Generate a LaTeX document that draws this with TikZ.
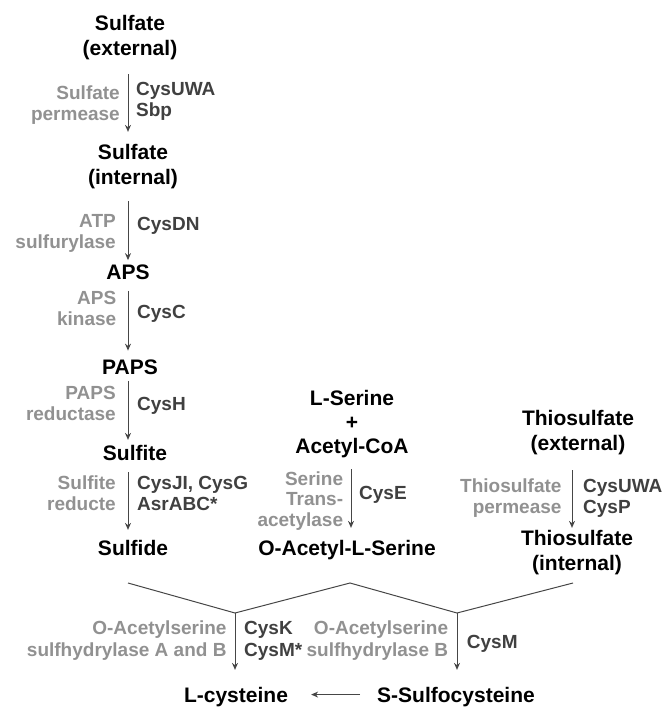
\documentclass[tikz,border=0pt]{standalone}
\usepackage{fontspec}
\setmainfont{Liberation Sans}
\usetikzlibrary{arrows.meta}
\definecolor{labgray}{RGB}{145,145,145}
\definecolor{enzgray}{RGB}{64,64,64}
\definecolor{linegray}{RGB}{70,70,70}
\begin{document}
\begin{tikzpicture}[x=1pt,y=-1pt,
  main/.style={font=\fontsize{21}{25}\selectfont\bfseries, text=black, align=center, inner sep=0pt, anchor=base},
  lab/.style={font=\fontsize{19}{21}\selectfont\bfseries, text=labgray, align=right, anchor=base east, inner sep=0pt},
  enz/.style={font=\fontsize{19}{21}\selectfont\bfseries, text=enzgray, align=left, anchor=base west, inner sep=0pt},
  arr/.style={draw=linegray, line width=1pt, -{Stealth[length=7pt,width=6pt]}},
  ln/.style={draw=linegray, line width=1pt}]
\useasboundingbox (0,0) rectangle (664,707);
\coordinate (colL) at (128,0);
\coordinate (colM) at (351,0);
\coordinate (colR) at (572,0);

% main column (multi-line nodes anchored at the baseline of their last line)
\node[main] (sext) at (130,55) {Sulfate\\(external)};
\node[main] (sint) at (133,184) {Sulfate\\(internal)};
\node[main] (aps) at (128,279) {APS};
\node[main] (paps) at (130,374) {PAPS};
\node[main] (sulfite) at (135,460.7) {Sulfite};
\node[main] (sulfide) at (133,555) {Sulfide};

\node[lab] (l1) at (120,120) {Sulfate\\permease};
\node[enz] (e1) at (136,116) {CysUWA\\Sbp};
\node[lab] (l2) at (116,248.5) {ATP\\sulfurylase};
\node[enz] (e2) at (137,230) {CysDN};
\node[lab] (l3) at (116.5,325) {APS\\kinase};
\node[enz] (e3) at (137,318.3) {CysC};
\node[lab] (l4) at (116,420) {PAPS\\reductase};
\node[enz] (e4) at (137,410) {CysH};
\node[lab] (l5) at (116,510) {Sulfite\\reducte};
\node[enz] (e5) at (137,510) {CysJI, CysG\\AsrABC*};

\draw[arr, shorten <=14.6pt, shorten >=11.7pt] (sext.south -| colL) -- (sint.north -| colL);
\draw[arr, shorten <=12.6pt, shorten >=4pt] (sint.south -| colL) -- (aps.north -| colL);
\draw[arr, shorten <=11.5pt, shorten >=8.5pt] (aps.south -| colL) -- (paps.north -| colL);
\draw[arr, shorten <=6.5pt, shorten >=5.4pt] (paps.south -| colL) -- (sulfite.north -| colL);
\draw[arr, shorten <=11.3pt, shorten >=9.7pt] (sulfite.south -| colL) -- (sulfide.north -| colL);

% middle column
\node[main, font=\fontsize{21}{24}\selectfont\bfseries] (ser) at (352,453) {L-Serine\\+\\Acetyl-CoA};
\node[main] (oas) at (347,555) {O-Acetyl-L-Serine};
\node[lab, font=\fontsize{19}{20.8}\selectfont\bfseries] (lE) at (343.3,526.7) {Serine\\Trans-\\acetylase};
\node[enz] (eE) at (359,499.3) {CysE};
\draw[arr, shorten <=11.6pt, shorten >=11.7pt] (ser.south -| colM) -- (oas.north -| colM);

% right column
\node[main] (text) at (578,450) {Thiosulfate\\(external)};
\node[main] (tint) at (577,570) {Thiosulfate\\(internal)};
\node[lab] (lT) at (561.7,513.3) {Thiosulfate\\permease};
\node[enz] (eT) at (583,513.3) {CysUWA\\CysP};
\draw[arr, shorten <=15.6pt, shorten >=1.7pt] (text.south -| colR) -- (tint.north -| colR);

% bottom
\coordinate (v1) at (128,583);
\coordinate (j1) at (235,613);
\coordinate (v2) at (350,583);
\coordinate (j2) at (457,613);
\coordinate (v3) at (573,583);
\draw[ln] (v1) -- (j1) -- (v2) -- (j2) -- (v3);

\node[main] (lcys) at (236,702) {L-cysteine};
\node[main] (ssc) at (456,702) {S-Sulfocysteine};

\node[lab, font=\fontsize{19}{22}\selectfont\bfseries] (lK) at (226.7,656) {O-Acetylserine\\sulfhydrylase A and B};
\node[enz, font=\fontsize{19}{22}\selectfont\bfseries] (eK) at (244,656) {CysK\\CysM*};
\node[lab, font=\fontsize{19}{22}\selectfont\bfseries] (lM) at (448.3,656) {O-Acetylserine\\sulfhydrylase B};
\node[enz] (eM) at (466.7,648.3) {CysM};

\draw[arr, shorten >=16.7pt] (j1) -- (lcys.north -| j1);
\draw[arr, shorten >=16.7pt] (j2) -- (ssc.north -| j2);
\draw[arr, shorten <=17pt, shorten >=23pt] ([yshift=2pt]ssc.west) -- ([yshift=2pt]lcys.east);
\end{tikzpicture}
\end{document}
